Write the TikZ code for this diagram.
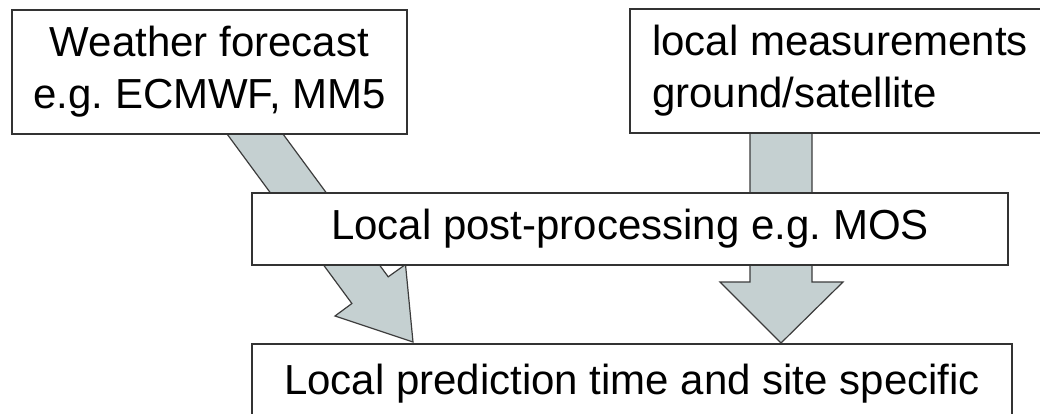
\documentclass[tikz,border=0pt]{standalone}
\usepackage{fontspec}
\setmainfont{Liberation Sans}
\frenchspacing
\definecolor{boxline}{HTML}{333333}
\definecolor{arrowline}{HTML}{3C3C3C}
\definecolor{arrowfill}{RGB}{197,208,209}
\begin{document}
\begin{tikzpicture}[x=1pt,y=-1pt,
  box/.style={draw=boxline, line width=2pt, fill=white, inner sep=0pt,
    font=\fontsize{42}{52}\selectfont},
  blockarrow/.style={draw=arrowline, line width=1.2pt, fill=arrowfill, line join=miter}]
\useasboundingbox (0,0) rectangle (1040,414);
\clip (0,0) rectangle (1040,414);

% block arrow: forecast -> local prediction (diagonal)
\draw[blockarrow] (225.0,131.2) -- (351.9,303.5) -- (335.0,316.0) -- (413,342)
  -- (405.5,264.5) -- (388.2,276.8) -- (261.3,104.6) -- cycle;

% block arrow: measurements -> local prediction (vertical)
\draw[blockarrow] (750,110) -- (750,282) -- (720,282) -- (781,343)
  -- (843,282) -- (812,282) -- (812,110) -- cycle;

% boxes
\node[box, minimum width=395pt, minimum height=124pt, align=center] (wf) at (209.5,72)
  {Weather forecast\\e.g. ECMWF, MM5};
\node[box, minimum width=420pt, minimum height=124pt, align=left] (lm) at (840,71)
  {local measurements\\ground/satellite};
\node[box, minimum width=756pt, minimum height=72pt] (pp) at (630,229)
  {Local post-processing e.g. MOS};
\node[box, anchor=north, minimum width=760pt, text height=50pt, text depth=50pt] (lp) at (632,343)
  {Local prediction time and site specific};
\end{tikzpicture}
\end{document}
